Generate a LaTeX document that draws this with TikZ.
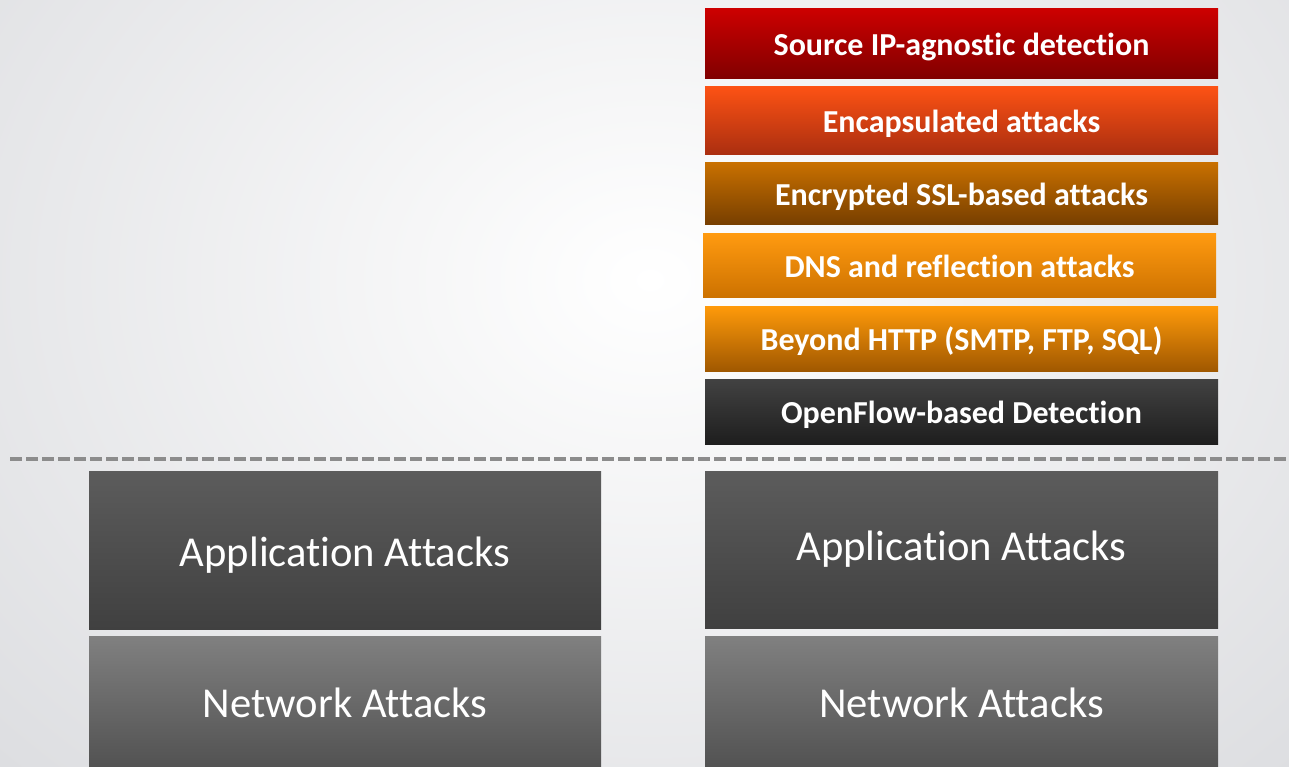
\documentclass[tikz,border=0pt]{standalone}
\usepackage{fontspec}
\setmainfont{Carlito}[Ligatures={NoCommon}]
\usetikzlibrary{positioning}
\definecolor{bgout}{HTML}{DDDEE1}
\definecolor{dashgray}{HTML}{8C8C8C}
\begin{document}
\begin{tikzpicture}[x=1pt,y=-1pt,
  box/.style={rectangle, inner sep=0pt, text=white, minimum width=513pt,
    text depth=0pt},
  topbox/.style={box, font=\bfseries\fontsize{32}{32}\selectfont, text height=24pt},
  basebox/.style={box, minimum width=512pt, font=\fontsize{42.6}{42.6}\selectfont, text height=32pt},
  sep/.style={dashgray, line width=3.5pt, dash pattern=on 12pt off 4pt}
]
\useasboundingbox (0,0) rectangle (1289,767);
\begin{scope}
\clip (0,0) rectangle (1289,767);
\shade[inner color=white, outer color=bgout] (-250,-420) rectangle (1550,980);
\end{scope}

% upper stack
\node[topbox, minimum height=70pt, top color={rgb,255:red,204;green,0;blue,0}, bottom color={rgb,255:red,128;green,0;blue,0}] (src) at (961.5,44) {Source IP-agnostic detection};
\node[topbox, minimum height=68pt, top color={rgb,255:red,252;green,82;blue,20}, bottom color={rgb,255:red,170;green,46;blue,16}] (enc) at (961.5,121) {Encapsulated attacks};
\node[topbox, minimum height=62pt, top color={rgb,255:red,200;green,112;blue,0}, bottom color={rgb,255:red,118;green,62;blue,0}] (ssl) at (961.5,194) {Encrypted SSL-based attacks};
\node[topbox, minimum height=63pt, top color={rgb,255:red,255;green,154;blue,16}, middle color={rgb,255:red,150;green,80;blue,0}, bottom color={rgb,255:red,205;green,114;blue,0}] (dns) at (959.5,265.5) {DNS and reflection attacks};
\node[topbox, minimum height=65pt, top color={rgb,255:red,255;green,154;blue,10}, bottom color={rgb,255:red,160;green,88;blue,0}] (http) at (961.5,338.5) {Beyond HTTP (SMTP, FTP, SQL)};
\node[topbox, minimum height=65pt, top color={rgb,255:red,66;green,66;blue,66}, bottom color={rgb,255:red,30;green,30;blue,30}] (of) at (961.5,411.5) {OpenFlow-based Detection};

% separator
\coordinate (sepL) at (10,459);
\coordinate (sepR) at (1289,459);
\draw[sep] (sepL) -- (sepR);

% lower stacks
\node[basebox, minimum height=158pt, top color={rgb,255:red,92;green,92;blue,92}, bottom color={rgb,255:red,64;green,64;blue,64}] (appL) at (345,550) {Application Attacks};
\node[basebox, minimum height=131pt, top color={rgb,255:red,128;green,128;blue,128}, bottom color={rgb,255:red,82;green,82;blue,82}] (netL) at (345,701.5) {Network Attacks};
\node[basebox, minimum width=513pt, minimum height=157pt, top color={rgb,255:red,92;green,92;blue,92}, bottom color={rgb,255:red,64;green,64;blue,64}] (appR) at (961.5,549.5) {};
\node[text=white, font=\fontsize{42.6}{42.6}\selectfont, inner sep=0pt, text height=32pt, text depth=0pt] (appRt) at (961.5,544.5) {Application Attacks};
\node[basebox, minimum width=513pt, minimum height=131pt, top color={rgb,255:red,128;green,128;blue,128}, bottom color={rgb,255:red,82;green,82;blue,82}] (netR) at (961.5,701.5) {Network Attacks};
\end{tikzpicture}
\end{document}
